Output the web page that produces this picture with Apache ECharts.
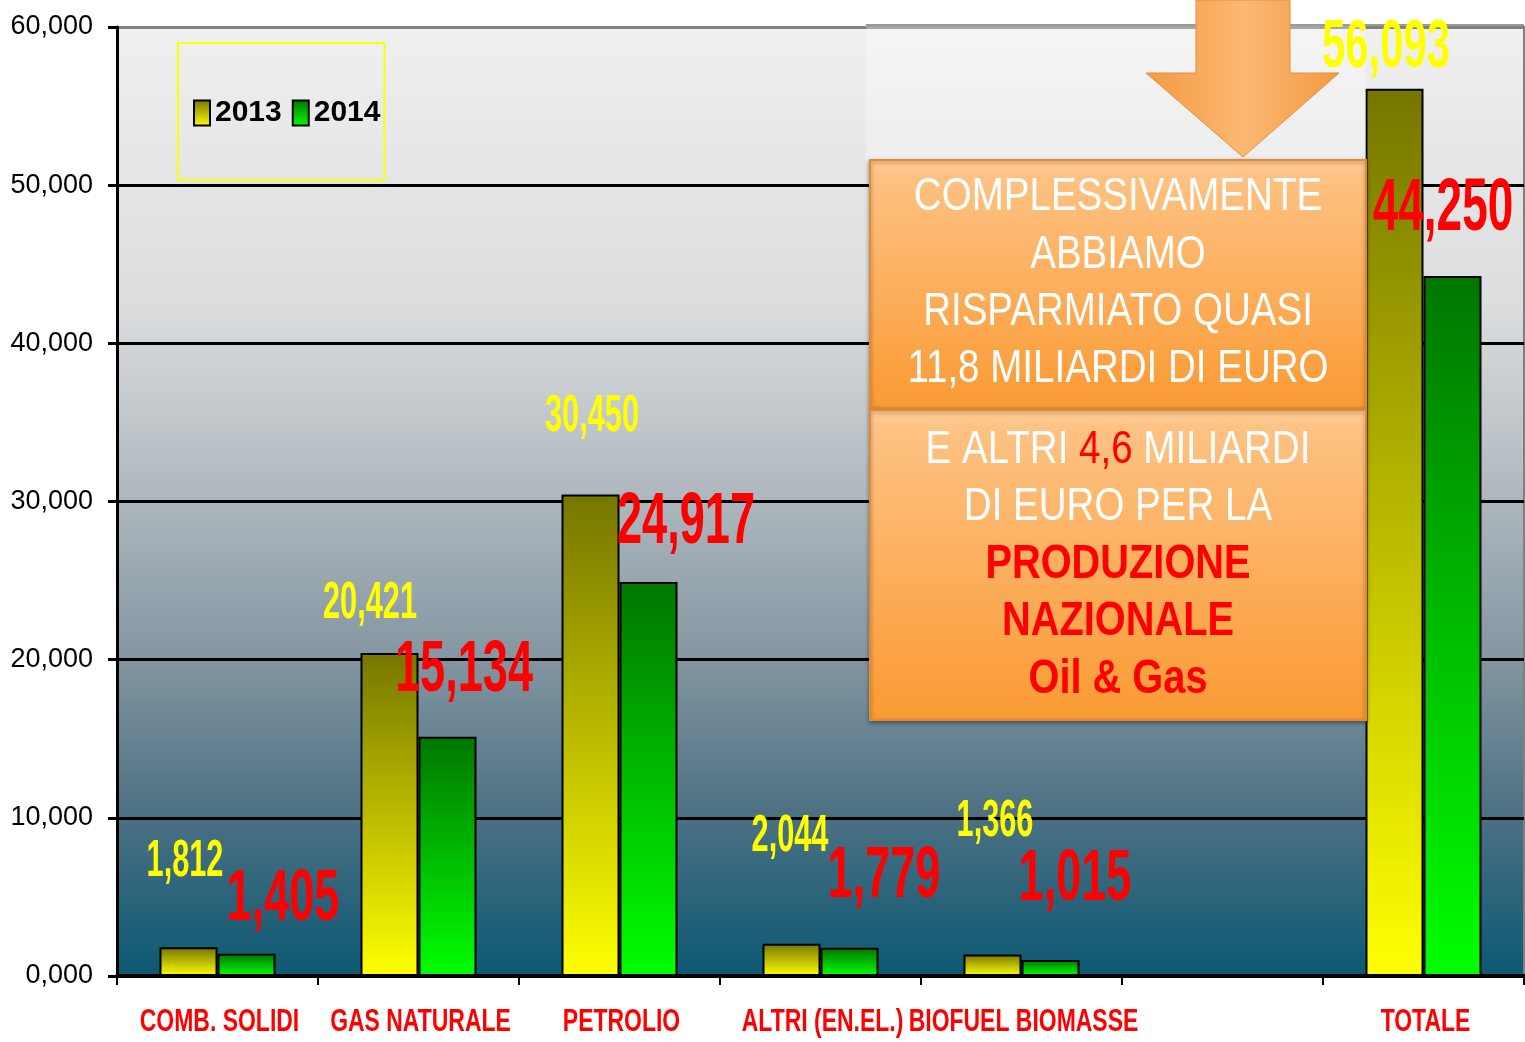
<!DOCTYPE html>
<html lang="it">
<head>
<meta charset="UTF-8">
<title>Fattura energetica 2013 - 2014</title>
<style>
  html, body { margin: 0; padding: 0; background: #fff; }
  #chart { width: 1525px; height: 1042px; }
</style>
</head>
<body>
<div id="chart"></div>
<script src="https://cdn.jsdelivr.net/npm/echarts@6.0.0/dist/echarts.min.js"></script>
<script>
// data (miliardi di euro)
const categories = ['COMB. SOLIDI', 'GAS NATURALE', 'PETROLIO', 'ALTRI (EN.EL.)', 'BIOFUEL BIOMASSE', '', 'TOTALE'];
const years = ['2013', '2014'];
const values2013 = [1.812, 20.421, 30.450, 2.044, 1.366, null, 56.093];
const values2014 = [1.405, 15.134, 24.917, 1.779, 1.015, null, 44.250];

// value label placement: [shift from bar centre, gap bar top -> baseline]
const labelPos2013 = [[-3.5, 67], [-19.5, 31], [1.5, 59], [-1.5, 89], [2.5, 114], null, [-8.5, 17]];
const labelPos2014 = [[36.5, 29], [16.5, 40], [37.5, 34], [34.5, 46], [24.5, 55], null, [-9.5, 41]];
const labelSize2013 = [37.5, 37.5, 37.5, 37.5, 37.5, 0, 51];
const labelSize2014 = [55, 55, 55, 55, 55, 0, 56];

// Liberation Sans squeezed horizontally stands in for Arial Narrow
const SANS = "'Liberation Sans', Arial, sans-serif";
const NARROW_X = 0.82;
const BAR_W = 58;

const fmt = v => v.toFixed(3).replace('.', ',');
const grad = (c0, c1) => new echarts.graphic.LinearGradient(0, 0, 0, 1, [
  { offset: 0, color: c0 }, { offset: 1, color: c1 }
]);

const chart = echarts.init(document.getElementById('chart'));

const option = {
  animation: false,
  backgroundColor: '#ffffff',
  grid: {
    left: 117, right: 1, top: 27, bottom: 66,
    outerBoundsMode: 'none',
    show: true,
    borderColor: '#808080',
    borderWidth: 2,
    backgroundColor: new echarts.graphic.LinearGradient(0, 0, 0, 1, [
      { offset: 0, color: '#f0f0f0' },
      { offset: 0.3, color: '#dadcde' },
      { offset: 0.45, color: '#b9c0c5' },
      { offset: 0.66, color: '#8597a2' },
      { offset: 0.82, color: '#4f7284' },
      { offset: 1, color: '#0c5873' }
    ])
  },
  legend: {
    data: years,
    left: 178, top: 43,
    orient: 'horizontal',
    itemWidth: 16, itemHeight: 25, itemGap: 10,
    icon: 'rect',
    borderColor: '#ffff00', borderWidth: 2,
    padding: [55, 4, 52, 15],
    textStyle: { fontFamily: SANS, fontWeight: 'bold', fontSize: 30, lineHeight: 30, color: '#000' }
  },
  xAxis: {
    type: 'category',
    data: categories,
    axisLine: { lineStyle: { color: '#000', width: 4 } },
    axisTick: { show: true, length: 9, lineStyle: { color: '#000', width: 2 } },
    axisLabel: { show: false },
    splitLine: { show: false }
  },
  yAxis: {
    type: 'value',
    min: 0, max: 60, interval: 10,
    axisLine: { show: true, lineStyle: { color: '#000', width: 3 } },
    axisTick: { show: true, length: 9, lineStyle: { color: '#000', width: 3 } },
    axisLabel: {
      margin: 24, formatter: fmt,
      color: '#000', fontFamily: SANS, fontSize: 27
    },
    splitLine: { lineStyle: { color: ['#000', '#000', '#000', '#000', '#000', '#000', '#808080'], width: 3 } }
  },
  series: [
    {
      name: years[0], type: 'bar', data: values2013,
      barWidth: BAR_W, barGap: '0%',
      itemStyle: { color: grad('#767600', '#ffff00'), borderColor: '#000', borderWidth: 2 }
    },
    {
      name: years[1], type: 'bar', data: values2014,
      barWidth: BAR_W, barGap: '0%',
      itemStyle: { color: grad('#007600', '#00ff00'), borderColor: '#000', borderWidth: 2 }
    }
  ]
};

chart.setOption(option);

// callout: arrow + two orange boxes
const boxFill = () => new echarts.graphic.LinearGradient(0, 0, 0, 1, [
  { offset: 0, color: '#ffcf98' }, { offset: 0.06, color: '#fec283' }, { offset: 1, color: '#fa9a33' }
]);
const white = { fill: '#ffffff', fontFamily: SANS, fontSize: 47 };
const redB = { fill: '#ff0000', fontFamily: SANS, fontSize: 48.5, fontWeight: 'bold' };
const centred = { align: 'center', verticalAlign: 'middle', textAlign: 'center', textVerticalAlign: 'middle' };
const line = (txt, y, st) => ({
  type: 'text', x: 1118, y: y, z: 12, scaleX: NARROW_X,
  style: Object.assign({ text: txt }, centred, st)
});

const graphics = [
  // lighter pasted panel behind the callout
  {
    type: 'rect', z: 10,
    shape: { x: 866, y: 24, width: 500, height: 136 },
    style: { fill: 'rgba(255,255,255,0.3)' }
  },
  {
    type: 'line', z: 10,
    shape: { x1: 866, y1: 25, x2: 1524, y2: 25 },
    style: { stroke: '#9a9a9a', lineWidth: 2 }
  },
  {
    type: 'polygon', z: 11,
    shape: { points: [[1196, 0], [1290, 0], [1290, 73], [1339, 73], [1243, 157], [1146, 73], [1196, 73]] },
    style: {
      fill: new echarts.graphic.LinearGradient(0, 0, 1, 0, [
        { offset: 0, color: '#f39a42' }, { offset: 0.5, color: '#fbb872' }, { offset: 1, color: '#f39a42' }
      ]),
      stroke: '#e58f3e', lineWidth: 1
    }
  },
  {
    type: 'rect', z: 11,
    shape: { x: 870, y: 160, width: 496, height: 248 },
    style: { fill: boxFill(), stroke: '#e08a35', lineWidth: 2, shadowBlur: 4, shadowColor: 'rgba(0,0,0,0.35)', shadowOffsetY: 2 }
  },
  {
    type: 'rect', z: 11,
    shape: { x: 870, y: 410, width: 496, height: 310 },
    style: { fill: boxFill(), stroke: '#e08a35', lineWidth: 2, shadowBlur: 4, shadowColor: 'rgba(0,0,0,0.35)', shadowOffsetY: 2 }
  },
  line('COMPLESSIVAMENTE', 197, white),
  line('ABBIAMO', 255, white),
  line('RISPARMIATO QUASI', 312, white),
  line('11,8 MILIARDI DI EURO', 369, white),
  {
    type: 'text', x: 1118, y: 450, z: 12, scaleX: NARROW_X,
    style: Object.assign({
      text: '{w|E ALTRI }{r|4,6}{w| MILIARDI}',
      rich: {
        w: { fill: '#ffffff', color: '#ffffff', fontFamily: SANS, fontSize: 47 },
        r: { fill: '#ff0000', color: '#ff0000', fontFamily: SANS, fontSize: 47 }
      }
    }, centred)
  },
  line('DI EURO PER LA', 507, white),
  line('PRODUZIONE', 565, redB),
  line('NAZIONALE', 622, redB),
  line('Oil & Gas', 680, redB)
];

// category names under the axis, placed from the category scale
categories.forEach((c, i) => {
  if (!c) return;
  const x = chart.convertToPixel({ xAxisIndex: 0 }, i);
  graphics.push({
    type: 'text', x: x + 2, y: 1022, z: 12, scaleX: NARROW_X, scaleY: 1.15,
    style: Object.assign({ text: c, fill: '#ff0000', fontFamily: SANS, fontWeight: 'bold', fontSize: 28 }, centred)
  });
});

// value labels, anchored on the bars through the axis scales
function addLabels(values, pos, sizes, side, color, scaleY) {
  values.forEach((v, i) => {
    if (v == null) return;
    const p = chart.convertToPixel({ gridIndex: 0 }, [i, v]);
    const F = sizes[i];
    const x = p[0] + side * BAR_W / 2 + pos[i][0];
    const y = p[1] - pos[i][1] + 0.153 * F * scaleY;
    graphics.push({
      type: 'text', x: x, y: y, scaleX: NARROW_X, scaleY: scaleY, z: 15,
      style: {
        text: fmt(v), fill: color,
        fontFamily: SANS, fontWeight: 'bold', fontSize: F,
        align: 'center', verticalAlign: 'bottom', textAlign: 'center', textVerticalAlign: 'bottom'
      }
    });
  });
}
addLabels(values2013, labelPos2013, labelSize2013, -1, '#ffff00', 1.36);
addLabels(values2014, labelPos2014, labelSize2014, 1, '#ff0000', 1.33);

chart.setOption({ graphic: graphics });
</script>
</body>
</html>
